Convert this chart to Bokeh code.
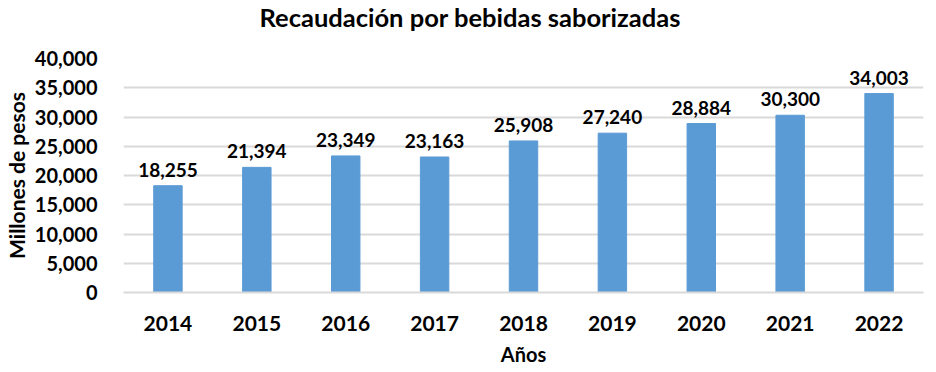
from bokeh.plotting import figure
from bokeh.models import ColumnDataSource, NumeralTickFormatter, FixedTicker, Range1d, Title
from bokeh.core.properties import value
from bokeh.embed import file_html
from bokeh.resources import INLINE

years = ["2014", "2015", "2016", "2017", "2018", "2019", "2020", "2021", "2022"]
recaudacion = [18255, 21394, 23349, 23163, 25908, 27240, 28884, 30300, 34003]
y_ticks = [0, 5000, 10000, 15000, 20000, 25000, 30000, 35000, 40000]
chart_title = "Recaudación por bebidas saborizadas"

labels = [f"{v:,}" for v in recaudacion]
src = ColumnDataSource(dict(x=years, y=recaudacion, lab=labels))

FONT = "Lato"
p = figure(x_range=years, y_range=Range1d(0, 40000), frame_width=800, frame_height=234,
           output_backend="svg", toolbar_location=None,
           min_border_left=110, min_border_right=6, min_border_top=56, min_border_bottom=73)
p.outline_line_color = None

spacer = Title(text=" ", text_font_size="12px", standoff=8)
p.add_layout(spacer, "above")
main_title = Title(text=chart_title, align="left", offset=136, vertical_align="top",
                   standoff=2, text_font=FONT, text_font_size="25.5px",
                   text_font_style="bold", text_color="#000000")
p.add_layout(main_title, "above")

p.vbar(x="x", top="y", width=0.32, source=src, fill_color="#5B9BD5", line_color="#5B9BD5")
p.text(x="x", y="y", text="lab", source=src, text_align="center", text_baseline="alphabetic",
       y_offset=-16, text_font=value(FONT), text_font_size="19px", text_font_style="bold",
       text_color="#000000")

p.yaxis.ticker = FixedTicker(ticks=y_ticks)
p.yaxis.formatter = NumeralTickFormatter(format="0,0")
p.yaxis.axis_line_color = None
p.yaxis.major_tick_line_color = None
p.yaxis.minor_tick_line_color = None
p.yaxis.major_label_standoff = 20
p.yaxis.axis_label = "Millones de pesos"
p.yaxis.axis_label_standoff = 3

p.xaxis.axis_line_color = "#D9D9D9"
p.xaxis.axis_line_width = 2
p.xaxis.major_tick_line_color = None
p.xaxis.major_label_standoff = 17
p.xaxis.axis_label = "Años"
p.xaxis.axis_label_standoff = 8

for ax in (p.xaxis, p.yaxis):
    ax.major_label_text_font = FONT
    ax.major_label_text_font_style = "bold"
    ax.major_label_text_color = "#000000"
    ax.axis_label_text_font = FONT
    ax.axis_label_text_font_style = "bold"
    ax.axis_label_text_color = "#000000"
p.yaxis.major_label_text_font_size = "20px"
p.xaxis.major_label_text_font_size = "21px"
p.yaxis.axis_label_text_font_size = "21px"
p.xaxis.axis_label_text_font_size = "20px"

p.xgrid.grid_line_color = None
p.ygrid.grid_line_color = "#D9D9D9"
p.ygrid.grid_line_width = 2

open("out.html", "w").write(file_html(p, INLINE))
